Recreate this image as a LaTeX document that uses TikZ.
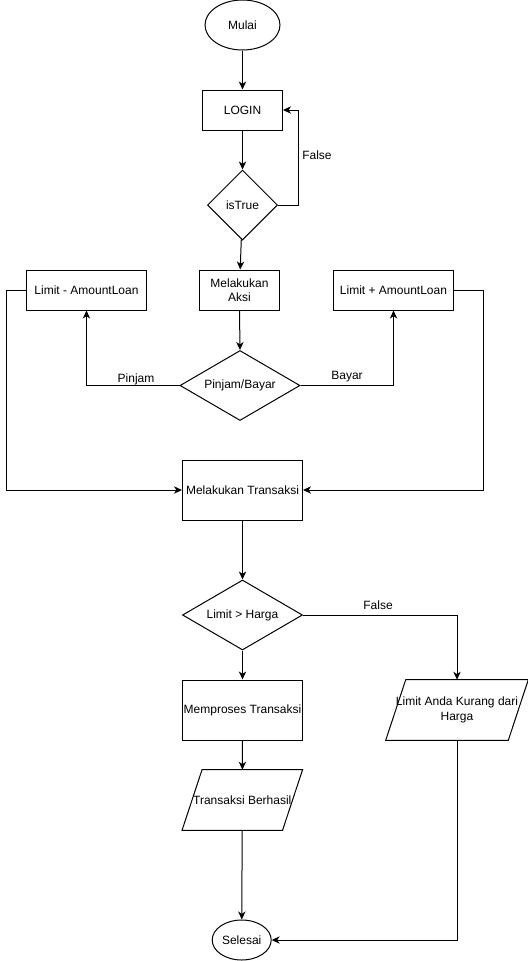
\documentclass[tikz,border=0pt]{standalone}
\usepackage{fontspec}
\setmainfont{Liberation Sans}
\usetikzlibrary{arrows.meta,shapes.geometric}

\begin{document}
\begin{tikzpicture}[x=0.75pt,y=-0.75pt,
  every node/.style={font=\fontsize{9}{10.8}\selectfont, inner sep=0pt, align=center},
  box/.style={draw, line width=0.75pt, rectangle, minimum width=#1},
  box/.default=90pt,
  terminal/.style={draw, line width=0.75pt, ellipse},
  decision/.style={draw, line width=0.75pt, diamond},
  io/.style={draw=none, rectangle, minimum width=#1, minimum height=45pt},
  conn/.style={line width=0.75pt, -{Stealth[length=6pt,width=5.5pt,inset=1.8pt]}},
  plain/.style={line width=0.75pt},
  lbl/.style={font=\fontsize{9}{10.8}\selectfont}
]
\useasboundingbox (0,0) rectangle (528,961);

% start and login loop
\node[terminal, minimum width=56.25pt, minimum height=37.5pt] (mulai) at (242.5,25) {Mulai};
\node[box=60pt, minimum height=30pt] (login) at (242.5,110) {LOGIN};
\node[decision, minimum width=52.5pt, minimum height=52.5pt] (istrue) at (242.5,205) {isTrue};

% action selection
\node[box=60pt, minimum height=30pt] (aksi) at (239.5,290) {Melakukan\\Aksi};
\node[box=90pt, minimum height=30pt] (lmin) at (86.5,290) {Limit - AmountLoan};
\node[box=90pt, minimum height=30pt] (lplus) at (393.5,290) {Limit + AmountLoan};
\node[decision, aspect=1.714, minimum width=90pt, minimum height=52.5pt] (pb) at (240,385.5) {Pinjam/Bayar};

% transaction
\node[box=90pt, minimum height=45pt] (trans) at (242.5,490) {Melakukan Transaksi};
\node[decision, aspect=1.714, minimum width=90pt, minimum height=52.5pt] (cek) at (242.5,615) {Limit > Harga};
\node[box=90pt, minimum height=45pt] (proses) at (242.5,710) {Memproses Transaksi};

% output parallelograms
\node[io=90pt] (kurang) at (457,710) {Limit Anda Kurang dari\\Harga};
\draw[plain] ([xshift=-7.5pt]kurang.south west) -- ([xshift=7.5pt]kurang.north west)
  -- ([xshift=7.5pt]kurang.north east) -- ([xshift=-7.5pt]kurang.south east) -- cycle;
\node[io=75pt] (berhasil) at (242.3,800) {Transaksi Berhasil};
\draw[plain] ([xshift=-7.5pt]berhasil.south west) -- ([xshift=7.5pt]berhasil.north west)
  -- ([xshift=7.5pt]berhasil.north east) -- ([xshift=-7.5pt]berhasil.south east) -- cycle;

\node[terminal, minimum width=44.25pt, minimum height=30pt] (selesai) at (241.7,940) {Selesai};

% connectors
\draw[conn] (mulai) -- (login);
\draw[conn] (login) -- (istrue);
\draw[conn] (istrue.east) -- ++(20,0) |- (login.east);
\node[lbl] (lfalse1) at (317,155) {False};
\draw[conn] (istrue) -- (aksi);
\draw[conn] (aksi.south) -- (pb.north);
\draw[conn] (pb.west) -| (lmin.south);
\node[lbl] (lpinjam) at (136,379) {Pinjam};
\draw[conn] (pb.east) -| (lplus.south);
\node[lbl] (lbayar) at (347,377) {Bayar};
\draw[conn] (lmin.west) -- ++(-19.4,0) |- (trans.west);
\draw[conn] (lplus.east) -- ++(29.6,0) |- (trans.east);
\draw[conn] (trans) -- (cek);
\draw[conn] (cek.east) -| (kurang.north);
\node[lbl] (lfalse2) at (378,605) {False};
\draw[conn] (cek) -- (proses);
\draw[conn] (proses) -- (berhasil);
\draw[conn] (berhasil) -- (selesai);
\draw[conn] (kurang.south) |- (selesai.east);
\end{tikzpicture}
\end{document}
